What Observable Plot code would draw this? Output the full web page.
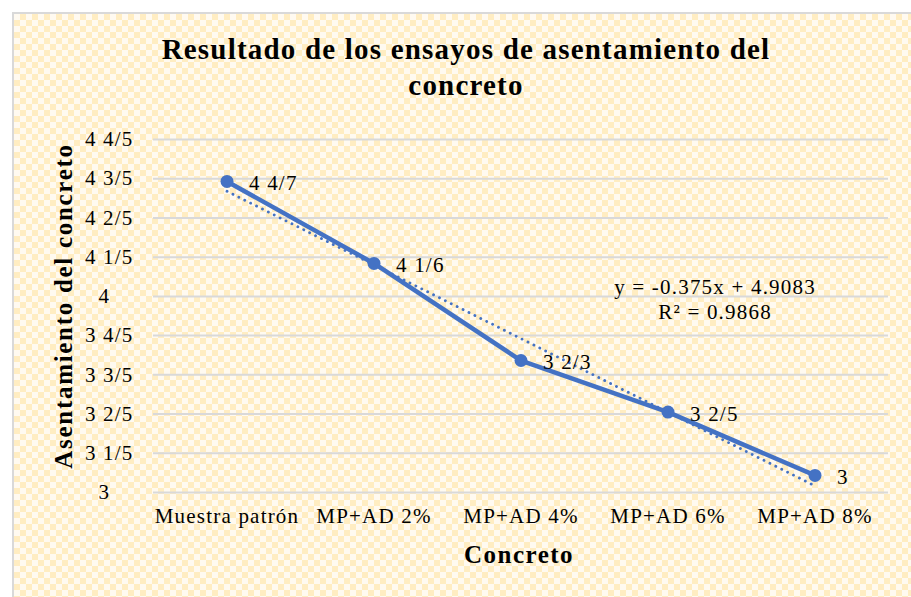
<!DOCTYPE html>
<html>
<head>
<meta charset="utf-8">
<script src="https://cdn.jsdelivr.net/npm/d3@7"></script>
<script src="https://cdn.jsdelivr.net/npm/@observablehq/plot@0.6"></script>
<style>
  html, body { margin: 0; padding: 0; background: #fff; width: 911px; height: 597px; overflow: hidden; }
  #frame {
    position: absolute; left: 12px; top: 12px; width: 920px; height: 600px;
    border-left: 2px solid #d9d9d9; border-top: 2px solid #d9d9d9;
    background-color: #fff6de;
    background-image: conic-gradient(#ffedc2 25%, #fffaf0 0 50%, #ffedc2 0 75%, #fffaf0 0);
    background-size: 12px 12px;
  }
  #chart { position: absolute; left: 0; top: 0; }
  .t { position: absolute; font-family: "Liberation Serif", "Times New Roman", serif; color: #000; white-space: nowrap; }
  #title { left: 0; width: 932px; top: 31px; text-align: center; font-weight: bold; font-size: 29px; letter-spacing: 1.2px; line-height: 36px; }
  #ytitle { left: 64px; top: 306px; font-weight: bold; font-size: 25px; letter-spacing: 1.7px; transform: translate(-50%, -50%) rotate(-90deg); }
  #xtitle { left: 519px; top: 555px; font-weight: bold; font-size: 25px; letter-spacing: 1.5px; transform: translate(-50%, -50%); }
</style>
</head>
<body>
<div id="frame"></div>
<div id="chart"></div>
<div class="t" id="title">Resultado de los ensayos de asentamiento del<br>concreto</div>
<div class="t" id="ytitle">Asentamiento del concreto</div>
<div class="t" id="xtitle">Concreto</div>
<script>
const categories = ["Muestra patrón", "MP+AD 2%", "MP+AD 4%", "MP+AD 6%", "MP+AD 8%"];
const values = [4.586, 4.168, 3.673, 3.41, 3.087];
const valueLabels = ["4 4/7", "4 1/6", "3 2/3", "3 2/5", "3"];
const yTicks = [3, 3.2, 3.4, 3.6, 3.8, 4, 4.2, 4.4, 4.6, 4.8];
const yTickLabels = ["3", "3 1/5", "3 2/5", "3 3/5", "3 4/5", "4", "4 1/5", "4 2/5", "4 3/5", "4 4/5"];
const trendText = ["y = -0.375x + 4.9083", "R² = 0.9868"];
const trendTextPos = {x: 4.32, y: 3.99};

const data = categories.map((c, i) => ({idx: i + 1, cat: c, v: values[i], lab: valueLabels[i]}));
const blue = "#4472C4";
const pad = "\u2007\u2007";

const plot = Plot.plot({
  width: 911,
  height: 597,
  marginLeft: 153,
  marginRight: 23,
  marginTop: 139,
  marginBottom: 105,
  style: {background: "transparent", fontFamily: "'Liberation Serif', 'Times New Roman', serif", fontSize: "21px", letterSpacing: "1.2px", color: "#000"},
  x: {domain: [0.5, 5.5], label: null},
  y: {domain: [3, 4.8], ticks: yTicks, tickFormat: d => {
        const s = yTickLabels[yTicks.findIndex(t => Math.abs(t - d) < 1e-9)];
        return s.includes("/") ? s : s + pad;
      }, tickSize: 0, tickPadding: 20, label: null},
  marks: [
    Plot.ruleY(yTicks, {stroke: "#d9d9d9", strokeWidth: 2}),
    Plot.axisX({ticks: [1, 2, 3, 4, 5], tickFormat: d => categories[d - 1], tickSize: 0, tickPadding: 16, label: null, fontSize: 21}),
    Plot.line(data, {x: "idx", y: "v", stroke: blue, strokeWidth: 4.5}),
    Plot.dot(data, {x: "idx", y: "v", r: 6.5, fill: blue}),
    Plot.linearRegressionY(data, {x: "idx", y: "v", ci: 0, stroke: blue, strokeWidth: 2.8, strokeDasharray: "0.1 6.5", strokeLinecap: "round"}),
    Plot.text(data, {x: "idx", y: "v", text: "lab", textAnchor: "start", dx: 22, dy: 2, fontSize: 21, fill: "#000"}),
    Plot.text([trendText.join("\n")], {x: trendTextPos.x, y: trendTextPos.y, text: d => d, textAnchor: "middle", lineHeight: 1.2, fontSize: 21, fill: "#000"})
  ]
});
document.getElementById("chart").appendChild(plot);
</script>
</body>
</html>
